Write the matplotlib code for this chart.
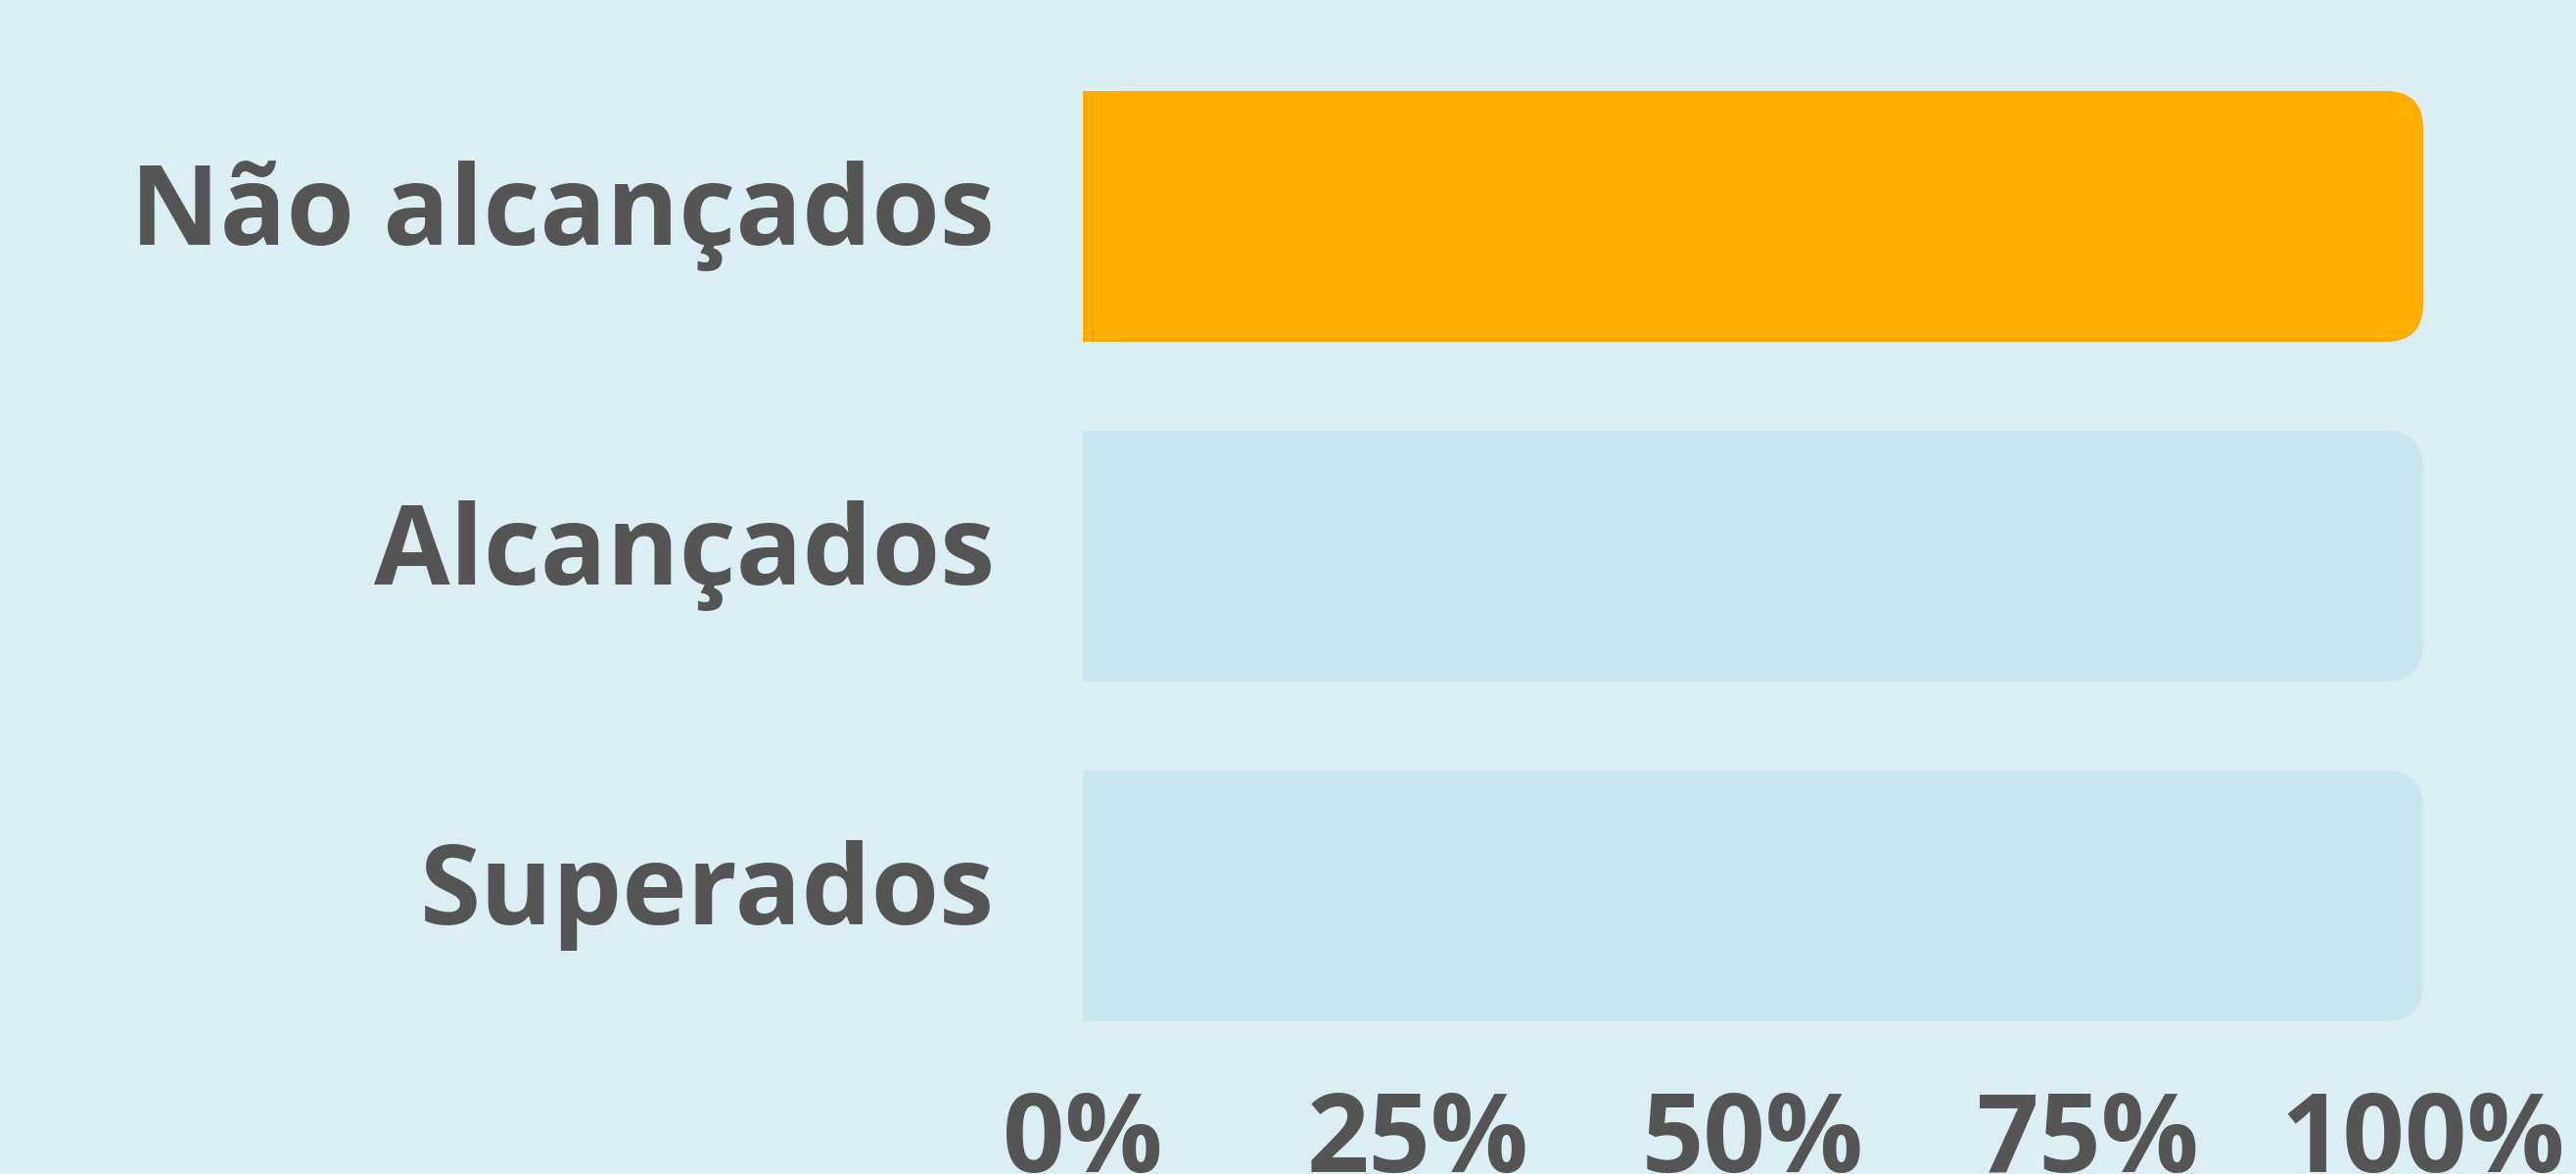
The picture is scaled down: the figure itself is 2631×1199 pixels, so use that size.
import matplotlib
matplotlib.use("Agg")
import matplotlib.pyplot as plt
from matplotlib.patches import FancyBboxPatch
from matplotlib.transforms import ScaledTranslation

categories = ["Não alcançados", "Alcançados", "Superados"]
values = [100, 0, 0]
track = [100, 100, 100]
ticks = [0, 25, 50, 75, 100]
tick_labels = ["0%", "25%", "50%", "75%", "100%"]

bg = "#DCEEF4"
track_color = "#C8E6EE"
bar_color = "#FFAD00"
text_color = "#555555"

plt.rcParams["font.family"] = ["Open Sans", "DejaVu Sans"]

fig = plt.figure(figsize=(26.31, 11.99), dpi=100, facecolor=bg)
ax = fig.add_axes([0.4204, 0.0922, 0.5203, 0.8682])
ax.set_facecolor(bg)
ax.set_xlim(0, 100)
ax.set_ylim(2.5, -0.5)

h = 0.738
# corner radius in x units, aspect keeps it round on screen
r = 2.8
aspect = (1369 / 100) / 347


def rounded_bar(y, w, color):
    if w <= 0:
        return
    ax.barh(y, w / 2, height=h, color=color, linewidth=0)
    p = FancyBboxPatch((0, y - h / 2), w, h,
                       boxstyle=f"round,pad=0,rounding_size={r}",
                       mutation_aspect=aspect,
                       facecolor=color, edgecolor="none")
    ax.add_patch(p)


for i, cat in enumerate(categories):
    rounded_bar(i, track[i], track_color)
    rounded_bar(i, values[i], bar_color)

ax.set_yticks(range(len(categories)))
ax.set_yticklabels(categories)
ax.set_xticks(ticks)
ax.set_xticklabels(tick_labels)
ax.tick_params(axis="both", length=0, labelsize=80, labelcolor=text_color)
ax.tick_params(axis="y", pad=65, labelsize=81)
ax.tick_params(axis="x", pad=17)
shift = ScaledTranslation(0, 10 / 72, fig.dpi_scale_trans)
for lab in ax.get_yticklabels():
    lab.set_fontweight("bold")
    lab.set_transform(lab.get_transform() + shift)
for lab in ax.get_xticklabels():
    lab.set_fontweight("bold")
for s in ax.spines.values():
    s.set_visible(False)

fig.savefig("out.png", dpi=100, facecolor=bg)
